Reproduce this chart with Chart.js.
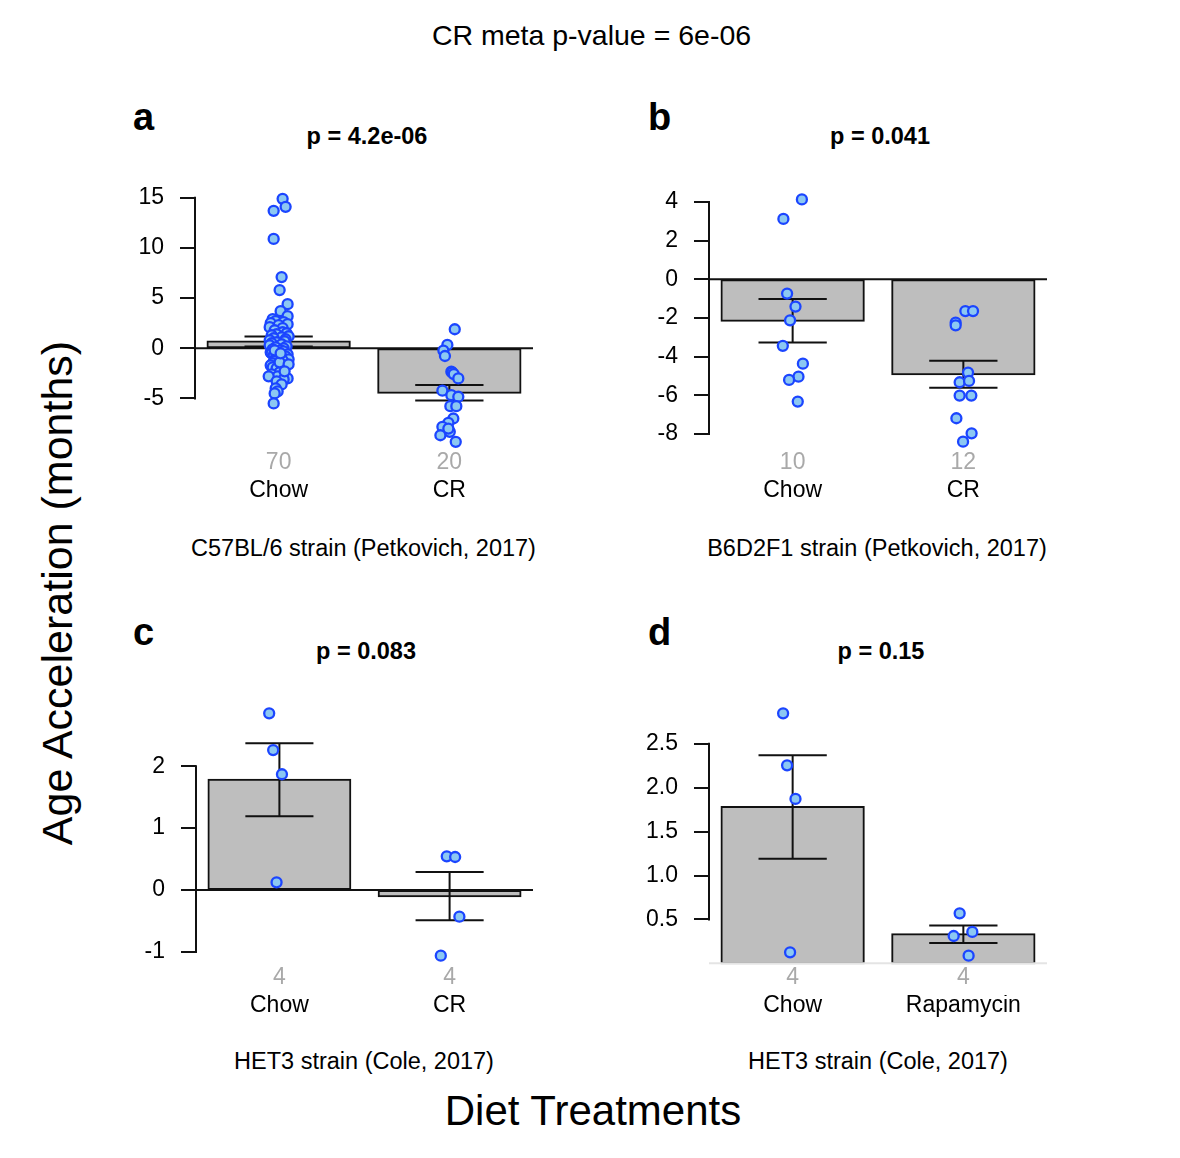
<!DOCTYPE html>
<html><head><meta charset="utf-8">
<script src="https://cdn.jsdelivr.net/npm/chart.js@4.4.1/dist/chart.umd.min.js"></script>
<style>
html,body{margin:0;padding:0;background:#fff;}
body{width:1180px;height:1158px;position:relative;overflow:hidden;font-family:"Liberation Sans",Arial,sans-serif;color:#000;}
.t{position:absolute;white-space:nowrap;line-height:1;}
canvas{position:absolute;}
</style></head><body>
<script>
// ---------------- DATA ----------------
const metaTitle = 'CR meta p-value = 6e-06';
const yLabel = 'Age Acceleration (months)';
const xLabel = 'Diet Treatments';
const barCenters = [0.7, 1.9];           // R barplot midpoints (width 1, space 0.2)

// Panel a
const catsA = ['Chow', 'CR'];
const countsA = [70, 20];
const meansA = [0.67, -4.43];
const seA = [0.50, 0.77];
const chowA = [14.9,14.1,13.7,10.9,7.1,5.8,4.4,3.7,3.2,2.9,2.7,2.6,2.5,2.4,2.3,2.1,2.0,1.8,1.6,1.5,1.4,1.3,1.2,1.1,1.0,0.9,0.8,0.7,0.6,0.5,0.4,0.3,0.2,0.1,0.0,-0.1,-0.2,-0.3,-0.4,-0.5,-0.6,-0.7,-0.8,-0.9,-1.0,-1.1,-1.2,-1.3,-1.5,-1.7,-1.9,-2.0,-2.2,-2.4,-2.6,-2.8,-2.8,-3.0,-3.1,-3.3,-3.6,-4.0,-4.3,-4.5,-5.5,-1.4,-1.6,-0.2,-2.3,-0.5];
const chowJitA = [0.028,0.049,-0.035,-0.035,0.021,0.007,0.063,0.014,0.063,-0.042,-0.021,0.035,-0.056,0.063,0,-0.063,0.028,-0.028,0.028,0.056,-0.014,-0.049,0.07,0.021,-0.035,0.049,-0.063,0.042,-0.014,-0.049,0.021,-0.063,0.056,-0.021,0.035,-0.042,0.014,0.035,-0.056,-0.049,0.063,-0.035,0.049,0,-0.021,0.07,0.028,-0.028,-0.042,-0.056,-0.042,-0.014,0.021,0.007,-0.049,-0.007,-0.07,0.063,0.035,-0.014,0.021,-0.021,-0.007,-0.028,-0.035,0.007,0.07,-0.028,0.042,0.014];
const crA = [1.9,0.33,-0.23,-0.77,-2.33,-2.43,-2.57,-3.0,-4.23,-4.67,-4.83,-5.77,-5.77,-7.0,-7.43,-7.83,-8.33,-8.0,-8.67,-9.33];
const crJitA = [0.038,-0.014,-0.042,-0.031,0.014,0.021,0.031,0.063,-0.049,0.014,0.063,0.007,0.049,0.028,-0.007,-0.049,0.003,-0.007,-0.063,0.045];
const yTicksA = [-5, 0, 5, 10, 15];

// Panel b
const catsB = ['Chow', 'CR'];
const countsB = [10, 12];
const meansB = [-2.14, -4.91];
const seB = [1.12, 0.70];
const chowB = [4.13,3.12,-0.74,-1.41,-2.12,-3.44,-4.36,-5.03,-5.2,-6.32];
const chowJitB = [0.065,-0.065,-0.039,0.020,-0.018,-0.069,0.072,0.041,-0.025,0.036];
const crB = [-1.64,-1.64,-2.24,-2.38,-4.82,-5.32,-5.25,-6.01,-6.01,-7.18,-7.96,-8.39];
const crJitB = [0.014,0.068,-0.054,-0.054,0.033,-0.026,0.040,-0.026,0.056,-0.049,0.058,-0.002];
const yTicksB = [-8, -6, -4, -2, 0, 2, 4];

// Panel c
const catsC = ['Chow', 'CR'];
const countsC = [4, 4];
const meansC = [1.78, -0.10];
const seC = [0.59, 0.39];
const chowC = [2.854, 2.26, 1.87, 0.124];
const chowJitC = [-0.072, -0.044, 0.018, -0.020];
const crC = [0.544, 0.533, -0.431, -1.061];
const crJitC = [-0.020, 0.039, 0.069, -0.062];
const yTicksC = [-1, 0, 1, 2];

// Panel d
const catsD = ['Chow', 'Rapamycin'];
const countsD = [4, 4];
const meansD = [1.78, 0.33];
const seD = [0.59, 0.10];
const chowD = [2.847, 2.255, 1.872, 0.125];
const chowJitD = [-0.067, -0.039, 0.020, -0.018];
const rapaD = [0.569, 0.357, 0.311, 0.087];
const rapaJitD = [-0.026, 0.063, -0.068, 0.037];
const yTicksD = [0.5, 1.0, 1.5, 2.0, 2.5];

const panelTitles = ['p = 4.2e-06', 'p = 0.041', 'p = 0.083', 'p = 0.15'];
const panelSubtitles = ['C57BL/6 strain (Petkovich, 2017)', 'B6D2F1 strain (Petkovich, 2017)', 'HET3 strain (Cole, 2017)', 'HET3 strain (Cole, 2017)'];
const panelLetters = ['a', 'b', 'c', 'd'];

// ---------------- LAYOUT / STYLE ----------------
const FONT = '"Liberation Sans", Arial, sans-serif';
const BASE = 0.8465; // baseline offset (em) for line-height 1

function addText(txt, cx, baseline, size, opts = {}) {
  const d = document.createElement('div');
  d.className = 't';
  d.textContent = txt;
  d.style.fontSize = size + 'px';
  if (opts.bold) d.style.fontWeight = 'bold';
  d.style.top = (baseline - BASE * size) + 'px';
  d.style.left = cx + 'px';
  if (!opts.left) d.style.transform = 'translateX(-50%)';
  document.body.appendChild(d);
  return d;
}

addText(metaTitle, 591.5, 45.5, 28.5);
addText(xLabel, 593, 1126, 42);
(function () {
  const size = 43;
  const d = document.createElement('div');
  d.className = 't';
  d.textContent = yLabel;
  d.style.fontSize = size + 'px';
  d.style.left = (72 - 0.3465 * size) + 'px';
  d.style.top = '593px';
  d.style.transform = 'translate(-50%,-50%) rotate(-90deg)';
  d.style.transformOrigin = '50% 50%';
  document.body.appendChild(d);
})();

const panels = [
  { L: 195, R: 533, T: 190, B: 452, ymin: -10.34, ymax: 15.78, yTicks: yTicksA, fmt: v => String(v),
    cats: catsA, counts: countsA, means: meansA, se: seA, groups: [[chowA, chowJitA], [crA, crJitA]], zeroColor: '#111' },
  { L: 709, R: 1047, T: 190, B: 452, ymin: -8.925, ymax: 4.615, yTicks: yTicksB, fmt: v => String(v),
    cats: catsB, counts: countsB, means: meansB, se: seB, groups: [[chowB, chowJitB], [crB, crJitB]], zeroColor: '#111' },
  { L: 196, R: 533, T: 705, B: 967, ymin: -1.244, ymax: 2.989, yTicks: yTicksC, fmt: v => String(v),
    cats: catsC, counts: countsC, means: meansC, se: seC, groups: [[chowC, chowJitC], [crC, crJitC]], zeroColor: '#111' },
  { L: 709, R: 1047, T: 705, B: 967, ymin: -0.042, ymax: 2.942, yTicks: yTicksD, fmt: v => v.toFixed(1),
    cats: catsD, counts: countsD, means: meansD, se: seD, groups: [[chowD, chowJitD], [rapaD, rapaJitD]], zeroColor: '#E4E4E4' }
];

// text for panels
const letterPos = [[133, 130], [648, 130], [133, 645], [648, 645]];
const titlePos = [[367, 145], [880, 145], [366, 659.5], [881, 659.5]];
const subPos = [[363.5, 556.5], [877, 556.5], [364, 1069.5], [878, 1069.5]];
panels.forEach((p, i) => {
  addText(panelLetters[i], letterPos[i][0], letterPos[i][1], 38, { bold: true, left: true });
  addText(panelTitles[i], titlePos[i][0], titlePos[i][1], 23.5, { bold: true });
  addText(panelSubtitles[i], subPos[i][0], subPos[i][1], 23.5);
});

const XMIN = 0.112, XMAX = 2.488;  // barplot xlim with 4% extension
const LINE = '#111';
const LW = 2;

const panelPlugin = {
  id: 'rstyle',
  afterDatasetDraw(chart, args) {
    if (args.index !== 0) return;
    const cfg = chart.options.plugins.rstyle;
    const ctx = chart.ctx, xs = chart.scales.x, ys = chart.scales.y, ca = chart.chartArea;
    ctx.save();
    // zero line
    ctx.strokeStyle = cfg.zeroColor;
    ctx.lineWidth = LW;
    ctx.beginPath();
    const y0 = ys.getPixelForValue(0);
    ctx.moveTo(ca.left, y0); ctx.lineTo(ca.right, y0);
    ctx.stroke();
    // error bars (mean +/- SE)
    ctx.strokeStyle = LINE;
    ctx.lineWidth = LW;
    cfg.centers.forEach((c, i) => {
      const x = xs.getPixelForValue(c);
      const cap = xs.getPixelForValue(c + 0.24) - x;
      const yt = ys.getPixelForValue(cfg.means[i] + cfg.se[i]);
      const yb = ys.getPixelForValue(cfg.means[i] - cfg.se[i]);
      ctx.beginPath();
      ctx.moveTo(x, yt); ctx.lineTo(x, yb);
      ctx.moveTo(x - cap, yt); ctx.lineTo(x + cap, yt);
      ctx.moveTo(x - cap, yb); ctx.lineTo(x + cap, yb);
      ctx.stroke();
    });
    ctx.restore();
  },
  afterDraw(chart) {
    const cfg = chart.options.plugins.rstyle;
    const ctx = chart.ctx, ys = chart.scales.y, ca = chart.chartArea;
    const t = cfg.yTicks;
    ctx.save();
    ctx.strokeStyle = LINE;
    ctx.lineWidth = LW;
    ctx.beginPath();
    ctx.moveTo(ca.left, ys.getPixelForValue(t[0]) + LW / 2);
    ctx.lineTo(ca.left, ys.getPixelForValue(t[t.length - 1]) - LW / 2);
    ctx.stroke();
    ctx.restore();
  }
};

panels.forEach((p) => {
  const yAxisW = 95, padR = 30, padT = 30, padB = 8, xH = 28, x2H = 30;
  const cw = yAxisW + (p.R - p.L) + padR;
  const ch = padT + (p.B - p.T) + xH + x2H + padB;
  const canvas = document.createElement('canvas');
  canvas.width = cw; canvas.height = ch;
  canvas.style.width = cw + 'px'; canvas.style.height = ch + 'px';
  canvas.style.left = (p.L - yAxisW) + 'px';
  canvas.style.top = (p.T - padT) + 'px';
  document.body.appendChild(canvas);

  const points = [];
  p.groups.forEach((g, gi) => {
    g[0].forEach((v, k) => points.push({ x: barCenters[gi] + g[1][k], y: v }));
  });

  const tickFont = { family: FONT, size: 23, lineHeight: 1 };
  new Chart(canvas, {
    type: 'bar',
    data: {
      datasets: [
        { type: 'bar', data: barCenters.map((c, i) => ({ x: c, y: p.means[i] })),
          backgroundColor: '#BEBEBE', borderColor: LINE, borderWidth: LW, borderSkipped: false,
          inflateAmount: LW / 2,
          categoryPercentage: 1, barPercentage: 1 / 1.2, order: 2 },
        { type: 'scatter', data: points, pointRadius: 5, pointHoverRadius: 5,
          backgroundColor: '#8CC8F2', borderColor: '#1B45FF', borderWidth: 2.3, order: 1 }
      ]
    },
    options: {
      responsive: false, animation: false, devicePixelRatio: 1,
      layout: { padding: { left: 0, right: padR, top: padT, bottom: padB }, autoPadding: false },
      plugins: { legend: { display: false }, tooltip: { enabled: false }, title: { display: false },
        rstyle: { zeroColor: p.zeroColor, centers: barCenters, means: p.means, se: p.se, yTicks: p.yTicks } },
      scales: {
        x: { type: 'linear', position: 'bottom', min: XMIN, max: XMAX, offset: false,
          grid: { display: false, drawTicks: false, offset: false }, border: { display: false },
          afterBuildTicks: s => { s.ticks = barCenters.map(v => ({ value: v })); },
          ticks: { color: '#A9A9A9', font: tickFont, padding: -0.5, maxRotation: 0, autoSkip: false,
            callback: (v, i) => String(p.counts[i]) },
          afterFit: s => { s.height = xH; } },
        x2: { type: 'linear', axis: 'x', position: 'bottom', min: XMIN, max: XMAX, offset: false,
          grid: { display: false, drawTicks: false, offset: false }, border: { display: false },
          afterBuildTicks: s => { s.ticks = barCenters.map(v => ({ value: v })); },
          ticks: { color: '#000', font: tickFont, padding: -1, maxRotation: 0, autoSkip: false,
            callback: (v, i) => p.cats[i] },
          afterFit: s => { s.height = x2H; } },
        y: { type: 'linear', position: 'left', min: p.ymin, max: p.ymax,
          grid: { display: true, drawOnChartArea: false, drawTicks: true, tickLength: 15, color: LINE, lineWidth: LW },
          border: { display: false },
          afterBuildTicks: s => { s.ticks = p.yTicks.map(v => ({ value: v })); },
          ticks: { color: '#000', font: tickFont, padding: 16, autoSkip: false, callback: v => p.fmt(v) },
          afterFit: s => { s.width = yAxisW; } }
      }
    },
    plugins: [panelPlugin]
  });
});
</script>
</body></html>
